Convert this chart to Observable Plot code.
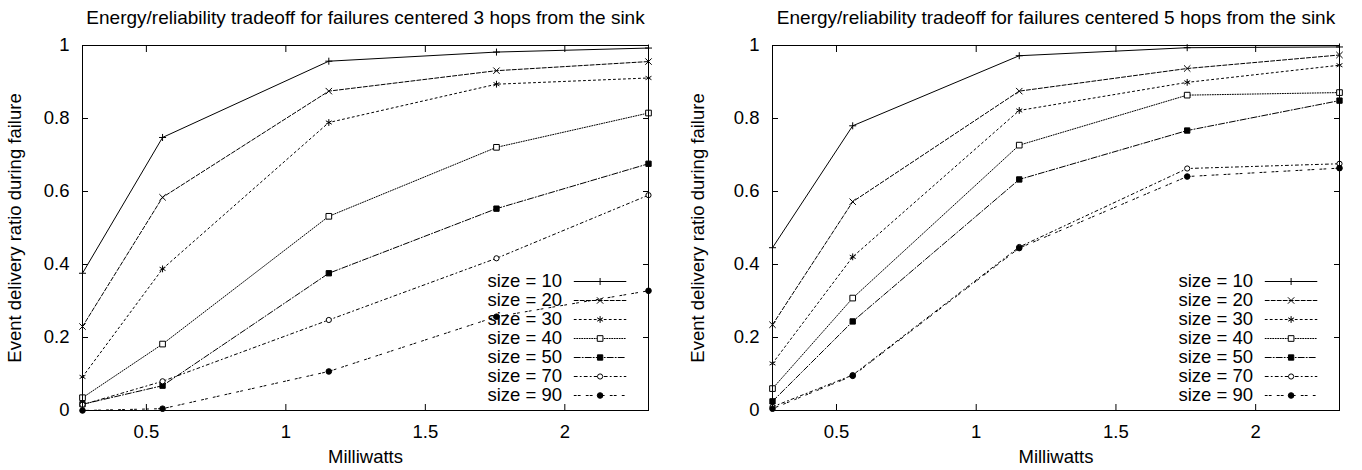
<!DOCTYPE html>
<html>
<head>
<meta charset="utf-8">
<script src="https://cdn.jsdelivr.net/npm/d3@7"></script>
<script src="https://cdn.jsdelivr.net/npm/@observablehq/plot@0.6"></script>
<style>
  html, body { margin: 0; padding: 0; background: #fff; }
  #row { display: flex; flex-direction: row; width: 1362px; height: 470px; }
</style>
</head>
<body>
<div id="row"></div>
<script>
// ---- data ----
const xValues = [0.271, 0.558, 1.154, 1.755, 2.3];
const sizes = [10, 20, 30, 40, 50, 70, 90];

const hop3Size10 = [0.376, 0.748, 0.957, 0.982, 0.993];
const hop3Size20 = [0.230, 0.584, 0.875, 0.931, 0.956];
const hop3Size30 = [0.092, 0.388, 0.789, 0.894, 0.911];
const hop3Size40 = [0.035, 0.182, 0.532, 0.721, 0.815];
const hop3Size50 = [0.017, 0.068, 0.376, 0.553, 0.676];
const hop3Size70 = [0.016, 0.080, 0.248, 0.417, 0.590];
const hop3Size90 = [0.000, 0.005, 0.107, 0.257, 0.328];

const hop5Size10 = [0.446, 0.780, 0.972, 0.994, 0.996];
const hop5Size20 = [0.235, 0.572, 0.875, 0.937, 0.974];
const hop5Size30 = [0.129, 0.421, 0.822, 0.899, 0.946];
const hop5Size40 = [0.060, 0.308, 0.727, 0.864, 0.871];
const hop5Size50 = [0.025, 0.244, 0.633, 0.767, 0.849];
const hop5Size70 = [0.010, 0.097, 0.448, 0.663, 0.676];
const hop5Size90 = [0.005, 0.095, 0.445, 0.641, 0.664];

const xTicks = [0.5, 1, 1.5, 2];
const xTickLabels = ["0.5", "1", "1.5", "2"];
const yTicks = [0, 0.2, 0.4, 0.6, 0.8, 1];
const yTickLabels = ["0", "0.2", "0.4", "0.6", "0.8", "1"];

const title3 = "Energy/reliability tradeoff for failures centered 3 hops from the sink";
const title5 = "Energy/reliability tradeoff for failures centered 5 hops from the sink";
const xLabel = "Milliwatts";
const yLabel = "Event delivery ratio during failure";

// ---- styles (gnuplot line/point types) ----
const styles = [
  {dash: null,        symbol: "plus",     r: 2.4, fill: "none"},
  {dash: "4,2",       symbol: "times",    r: 3,   fill: "none"},
  {dash: "2,3",       symbol: "asterisk", r: 3.2, fill: "none"},
  {dash: "1,1.5",     symbol: "square",   r: 3.2, fill: "white"},
  {dash: "6,2,1,2",   symbol: "square",   r: 3,   fill: "black"},
  {dash: "3,3,1,3",   symbol: "circle",   r: 2.6, fill: "white"},
  {dash: "2,2,2,6",   symbol: "circle",   r: 2.8, fill: "black"}
];

const lineShape = {
  draw(context, l) { context.moveTo(0, 0); context.lineTo(0, -l); }
};

function chart(title, series, ml, mr, yLabelDx) {
  const marks = [];
  series.forEach((vals, i) => {
    const st = styles[i];
    const data = xValues.map((x, j) => ({x, y: vals[j]}));
    marks.push(Plot.line(data, {x: "x", y: "y", stroke: "black", strokeWidth: 1, strokeDasharray: st.dash}));
    marks.push(Plot.dot(data, {x: "x", y: "y", symbol: st.symbol, r: st.r, stroke: "black", fill: st.fill, strokeWidth: 1}));
  });
  // legend
  sizes.forEach((s, i) => {
    const st = styles[i];
    const dy = -129 + 19 * i;
    marks.push(Plot.text([s], {text: d => `size = ${d}`, frameAnchor: "bottom-right", dx: -86.5, dy, textAnchor: "end", lineAnchor: "middle", fill: "black"}));
    marks.push(Plot.vector([s], {frameAnchor: "bottom-right", dx: -74.3, dy, length: 51.7, rotate: 90, anchor: "start", shape: lineShape, stroke: "black", strokeWidth: 1, strokeDasharray: st.dash}));
    marks.push(Plot.dot([s], {frameAnchor: "bottom-right", dx: -48.4, dy, symbol: st.symbol, r: st.r, stroke: "black", fill: st.fill, strokeWidth: 1}));
  });
  return Plot.plot({
    width: 681,
    height: 470,
    marginLeft: ml,
    marginRight: mr,
    marginTop: 45,
    marginBottom: 60,
    x: {domain: [xValues[0], xValues[xValues.length - 1]]},
    y: {domain: [0, 1]},
    style: {fontFamily: "'Liberation Sans', Arial, Helvetica, sans-serif", fontSize: "18.5px", color: "black", background: "white", overflow: "visible"},
    marks: [
      Plot.axisX(xTicks, {anchor: "bottom", tickSize: -6, tickPadding: 20, tickFormat: d => xTickLabels[xTicks.indexOf(d)], label: null}),
      Plot.axisX(xTicks, {anchor: "top", tickSize: -6, fill: "none", label: null}),
      Plot.axisY(yTicks, {anchor: "left", tickSize: -6, tickPadding: 19, tickFormat: d => yTickLabels[yTicks.indexOf(d)], label: null}),
      Plot.axisY(yTicks, {anchor: "right", tickSize: -6, fill: "none", label: null}),
      ...marks,
      Plot.frame({stroke: "black", strokeWidth: 1}),
      Plot.text([title], {frameAnchor: "top", dy: -28, lineAnchor: "middle", fill: "black", fontSize: 19}),
      Plot.text([xLabel], {frameAnchor: "bottom", dy: 47, lineAnchor: "middle", fill: "black"}),
      Plot.text([yLabel], {frameAnchor: "left", dx: yLabelDx, rotate: -90, textAnchor: "middle", lineAnchor: "middle", fill: "black"})
    ]
  });
}

const row = document.getElementById("row");
row.appendChild(chart(title3, [hop3Size10, hop3Size20, hop3Size30, hop3Size40, hop3Size50, hop3Size70, hop3Size90], 82, 33, -67));
row.appendChild(chart(title5, [hop5Size10, hop5Size20, hop5Size30, hop5Size40, hop5Size50, hop5Size70, hop5Size90], 91, 23, -74));
</script>
</body>
</html>
